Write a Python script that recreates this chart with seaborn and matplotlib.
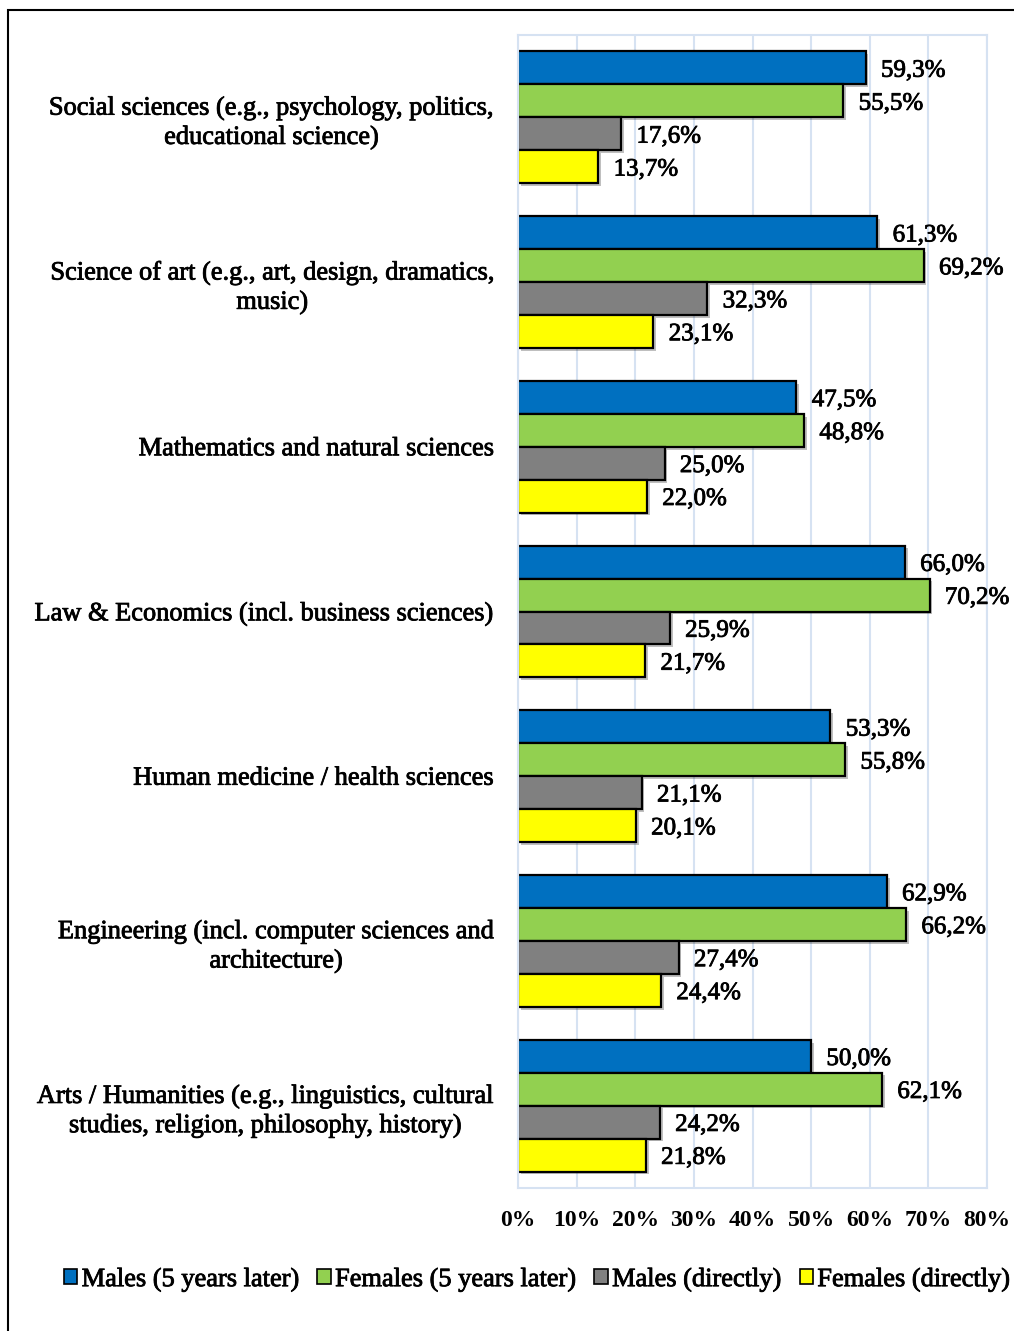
import numpy as np
import pandas as pd
import matplotlib
matplotlib.use("Agg")
import matplotlib.pyplot as plt
import matplotlib.patheffects as pe
from matplotlib.patches import Rectangle, Patch
import seaborn as sns

# Study fields (top to bottom)
fields = [
    "Social sciences (e.g., psychology, politics,\neducational science)",
    "Science of art (e.g., art, design, dramatics,\nmusic)",
    "Mathematics and natural sciences",
    "Law & Economics (incl. business sciences)",
    "Human medicine / health sciences",
    "Engineering (incl. computer sciences and\narchitecture)",
    "Arts / Humanities (e.g., linguistics, cultural\nstudies, religion, philosophy, history)",
]

groups = ["Males (5 years later)", "Females (5 years later)",
          "Males (directly)", "Females (directly)"]

males_5y = [59.3, 61.3, 47.5, 66.0, 53.3, 62.9, 50.0]
females_5y = [55.5, 69.2, 48.8, 70.2, 55.8, 66.2, 62.1]
males_direct = [17.6, 32.3, 25.0, 25.9, 21.1, 27.4, 24.2]
females_direct = [13.7, 23.1, 22.0, 21.7, 20.1, 24.4, 21.8]

colors = ["#0070C0", "#92D050", "#808080", "#FFFF00"]
x_ticks = [0, 10, 20, 30, 40, 50, 60, 70, 80]

series = [males_5y, females_5y, males_direct, females_direct]
df = pd.DataFrame({
    "field": np.repeat([fields], len(groups), axis=0).ravel(),
    "group": np.repeat(groups, len(fields)),
    "value": np.concatenate(series),
})

sns.set_theme(style="white")
plt.rcParams["font.family"] = ["Liberation Serif", "DejaVu Serif"]
plt.rcParams["text.color"] = "black"
plt.rcParams["xtick.color"] = "black"
plt.rcParams["ytick.color"] = "black"

# slightly heavier text strokes
heavy = [pe.withStroke(linewidth=0.6, foreground="black")]

fig = plt.figure(figsize=(10.14, 13.31), dpi=100)
ax = fig.add_axes([518 / 1014, 1 - 1188 / 1331, (987 - 518) / 1014, (1188 - 35) / 1331])

sns.barplot(data=df, x="value", y="field", hue="group", order=fields,
            hue_order=groups, palette=colors, orient="h", width=0.8,
            edgecolor="black", linewidth=1.6, saturation=1, legend=False,
            ax=ax)

shadow = [pe.SimplePatchShadow(offset=(2, -2), alpha=0.25, shadow_rgbFace="black"), pe.Normal()]
for p in ax.patches:
    p.set_path_effects(shadow)

for cont, vals in zip(ax.containers, series):
    texts = ax.bar_label(cont, labels=[f"{v:.1f}".replace(".", ",") + "%" for v in vals],
                         padding=11, fontsize=18, color="black")
    for t in texts:
        t.xyann = (11, -2)
        t.set_path_effects(heavy)

ax.set_xlim(0, 80)
ax.set_xticks(x_ticks)
ax.set_xticklabels([f"{t}%" for t in x_ticks], fontsize=17, fontweight="bold")
ax.tick_params(axis="x", length=0, pad=16)
ax.tick_params(axis="y", length=0, pad=17, labelsize=19)
for lab in ax.get_yticklabels():
    lab.set_multialignment("center")
    lab.set_linespacing(1.35)
    lab.set_path_effects(heavy)
ax.set_xlabel("")
ax.set_ylabel("")

ax.grid(axis="x", color="#D6E2F2", linewidth=1.5)
ax.set_axisbelow(True)
for s in ax.spines.values():
    s.set_color("#D6E2F2")
    s.set_linewidth(1.5)

handles = [Patch(facecolor=c, edgecolor="black", linewidth=1.2) for c in colors]
leg = fig.legend(handles, groups, loc="center left",
                 bbox_to_anchor=(64 / 1014, 1 - 1280 / 1331), ncol=4, frameon=False,
                 fontsize=19, handlelength=0.5, handleheight=0.5, handletextpad=0.17,
                 columnspacing=0.68, borderaxespad=0, borderpad=0)
for t in leg.get_texts():
    t.set_path_effects(heavy)

fig.patches.append(Rectangle((8 / 1014, -0.1), 1.2, 1.1 - 10 / 1331,
                             transform=fig.transFigure, fill=False,
                             edgecolor="black", linewidth=1.5))

fig.savefig("out.png", dpi=100)
